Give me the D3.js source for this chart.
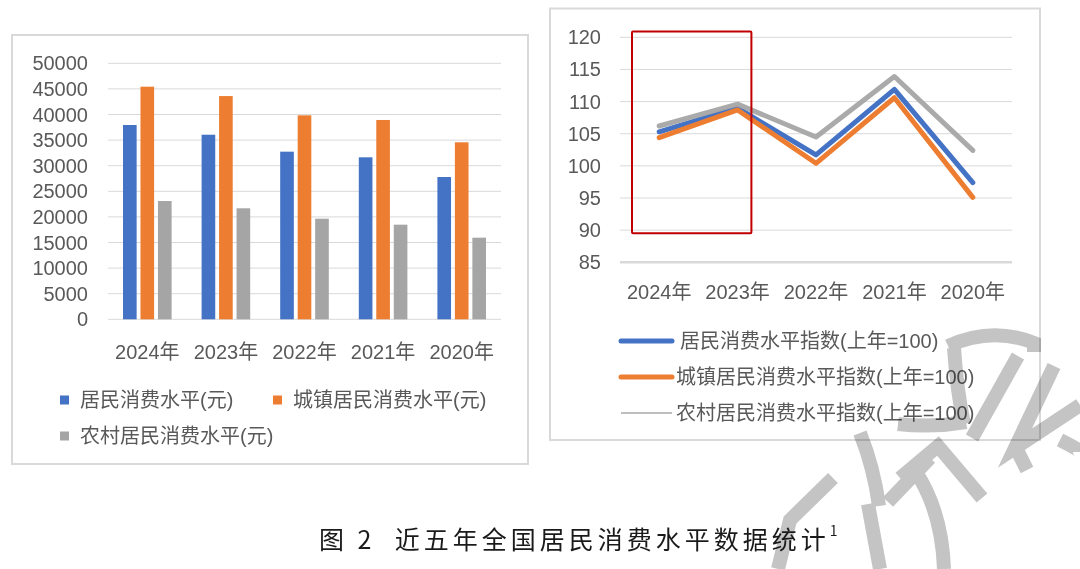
<!DOCTYPE html>
<html><head><meta charset="utf-8">
<script src="https://cdn.jsdelivr.net/npm/d3@7/dist/d3.min.js"></script>
<style>
html,body{margin:0;padding:0;background:#fff;}
svg{display:block;font-family:"Liberation Sans","Noto Sans CJK SC",sans-serif;}
</style></head>
<body>
<svg id="c" width="1080" height="569"></svg>
<script>
// ---------- data ----------
const years = ["2024年","2023年","2022年","2021年","2020年"];
const barSeries = ["居民消费水平(元)","城镇居民消费水平(元)","农村居民消费水平(元)"];
const allLevel   = [37950, 36050, 32740, 31640, 27790];
const urbanLevel = [45430, 43600, 39840, 38930, 34570];
const ruralLevel = [23100, 21680, 19650, 18480, 15940];
const barTicks = [0,5000,10000,15000,20000,25000,30000,35000,40000,45000,50000];

const lineSeries = ["居民消费水平指数(上年=100)","城镇居民消费水平指数(上年=100)","农村居民消费水平指数(上年=100)"];
const allIndex   = [105.3, 109.0, 101.7, 111.9, 97.4];
const urbanIndex = [104.4, 108.7, 100.4, 110.6, 95.1];
const ruralIndex = [106.2, 109.6, 104.5, 113.9, 102.4];
const lineTicks = [85,90,95,100,105,110,115,120];

const colors = ["#4472C4","#ED7D31","#A5A5A5"];
const caption = "图 2  近五年全国居民消费水平数据统计";

const svg = d3.select("#c");
const txt = "#595959";

// ---------- panels ----------
svg.append("rect").attr("x",12).attr("y",35).attr("width",516).attr("height",429)
  .attr("fill","#fff").attr("stroke","#d9d9d9").attr("stroke-width",2);
svg.append("rect").attr("x",550).attr("y",8.5).attr("width",490).attr("height",431.5)
  .attr("fill","#fff").attr("stroke","#d9d9d9").attr("stroke-width",2);

// ---------- left bar chart ----------
const xL = d3.scaleBand().domain(years).range([108,501]);
const xInner = d3.scaleBand().domain(barSeries).range([15, xL.bandwidth()-15]).paddingInner(0.22);
const yL = d3.scaleLinear().domain([0,50000]).range([319.3,63.3]);

const gL = svg.append("g");
gL.selectAll("line.grid").data(barTicks).join("line")
  .attr("x1",108).attr("x2",501).attr("y1",d=>yL(d)).attr("y2",d=>yL(d))
  .attr("stroke","#d9d9d9").attr("stroke-width",1);
gL.selectAll("text.yt").data(barTicks).join("text")
  .attr("x",88).attr("y",d=>yL(d)).attr("text-anchor","end").attr("dominant-baseline","central")
  .attr("font-size",20).attr("fill",txt).text(d=>d);

const barData = [allLevel, urbanLevel, ruralLevel];
barData.forEach((arr,si)=>{
  gL.selectAll("rect.s"+si).data(arr).join("rect")
    .attr("x",(d,i)=>xL(years[i])+xInner(barSeries[si]))
    .attr("width",xInner.bandwidth())
    .attr("y",d=>yL(d)).attr("height",d=>yL(0)-yL(d))
    .attr("fill",colors[si]);
});
gL.selectAll("text.xt").data(years).join("text")
  .attr("x",d=>xL(d)+xL.bandwidth()/2).attr("y",352).attr("text-anchor","middle")
  .attr("dominant-baseline","central").attr("font-size",20).attr("fill",txt).text(d=>d);

// legend left
const legL = [{x:60,y:400},{x:273,y:400},{x:60,y:436}];
barSeries.forEach((s,i)=>{
  gL.append("rect").attr("x",legL[i].x).attr("y",legL[i].y-4.5).attr("width",9).attr("height",9).attr("fill",colors[i]);
  gL.append("text").attr("x",legL[i].x+20).attr("y",legL[i].y).attr("dominant-baseline","central")
    .attr("font-size",20).attr("fill",txt).text(s);
});

// ---------- right line chart ----------
const xR = d3.scaleBand().domain(years).range([620,1012]);
const yR = d3.scaleLinear().domain([85,120]).range([262.3,37.3]);
const gR = svg.append("g");
gR.selectAll("line.grid").data(lineTicks).join("line")
  .attr("x1",620).attr("x2",1012).attr("y1",d=>yR(d)).attr("y2",d=>yR(d))
  .attr("stroke","#d9d9d9").attr("stroke-width",d=>d===85?2.5:1);
gR.selectAll("text.yt").data(lineTicks).join("text")
  .attr("x",601).attr("y",d=>yR(d)).attr("text-anchor","end").attr("dominant-baseline","central")
  .attr("font-size",20).attr("fill",txt).text(d=>d);
gR.selectAll("text.xt").data(years).join("text")
  .attr("x",d=>xR(d)+xR.bandwidth()/2).attr("y",292).attr("text-anchor","middle")
  .attr("dominant-baseline","central").attr("font-size",20).attr("fill",txt).text(d=>d);

const line = d3.line().x((d,i)=>xR(years[i])+xR.bandwidth()/2).y(d=>yR(d));
[allIndex, urbanIndex, ruralIndex].forEach((arr,si)=>{
  gR.append("path").datum(arr).attr("d",line).attr("fill","none")
    .attr("stroke",colors[si]).attr("stroke-width",5).attr("stroke-linejoin","round").attr("stroke-linecap","round")
    .attr("opacity", si===2?0.95:1);
});
// highlight box
gR.append("rect")
  .attr("x",xR(years[0])+12).attr("y",yR(120.9))
  .attr("width",(xR(years[1])+53)-(xR(years[0])+12)).attr("height",yR(89.5)-yR(120.9))
  .attr("fill","none").attr("stroke","#C00000").attr("stroke-width",2).attr("rx",1);

// legend right
const legRY = [341,377,413];
lineSeries.forEach((s,i)=>{
  gR.append("line").attr("x1",621).attr("x2",672).attr("y1",legRY[i]).attr("y2",legRY[i])
    .attr("stroke",i===2?"#7f7f7f":colors[i]).attr("stroke-width",i===2?1:5).attr("stroke-linecap",i===2?"butt":"round");
  gR.append("text").attr("x",i===0?680:676).attr("y",legRY[i]).attr("dominant-baseline","central")
    .attr("font-size",20).attr("fill",txt).text(s);
});

// ---------- watermark (decorative) ----------
const wm = svg.append("g").attr("fill","none").attr("stroke","#c4c4c4").attr("stroke-width",14)
  .attr("stroke-linecap","butt").attr("stroke-linejoin","miter").style("mix-blend-mode","multiply");
["M948,346 Q992,326 1034,343 L1034,352",
 "M954,348 Q957,392 964,424",
 "M898,424 Q932,428 966,422",
 "M1018,356 L972,438",
 "M1054,366 L1015,448 L1080,405",
 "M1015,446 L1027,470",
 "M900,478 L938,446 L982,498",
 "M860,433 Q874,468 879,506",
 "M833,478 L790,520 L778,569",
 "M868,504 L880,569",
 "M888,502 L930,458",
 "M916,472 Q942,512 944,569",
 "M1060,440 Q1080,450 1080,452"
].forEach(p=>wm.append("path").attr("d",p));

// ---------- caption ----------
const cap = svg.append("text").attr("x",319).attr("y",538).attr("dominant-baseline","central")
  .attr("font-family","'Noto Sans CJK SC',sans-serif")
  .attr("font-size",25).attr("fill","#1a1a1a").attr("letter-spacing",4)
  .attr("style","white-space:pre").style("mix-blend-mode","normal").text(caption);
cap.append("tspan").attr("font-size",14).attr("dy",-8).text("1");
</script>
</body></html>
